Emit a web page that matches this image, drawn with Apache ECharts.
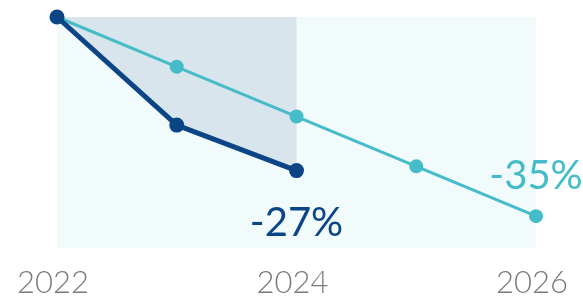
<!DOCTYPE html>
<html><head><meta charset="utf-8">
<script src="https://cdn.jsdelivr.net/npm/echarts@6/dist/echarts.min.js"></script>
<style>html,body{margin:0;padding:0;background:#fff}#c{width:583px;height:300px}</style>
</head><body><div id="c"></div>
<script>
var years = ['2022','2023','2024','2025','2026'];
var targetPath = [0, -8.75, -17.5, -26.25, -35];
var actual = [0, -19, -27];
var actualLabel = '-27%';
var targetLabel = '-35%';

var chart = echarts.init(document.getElementById('c'));
function withLastLabel(arr, text, opts) {
  return arr.map(function (v, i) {
    if (i !== arr.length - 1) return v;
    return { value: v, label: Object.assign({ show: true, formatter: text }, opts) };
  });
}
chart.setOption({
  animation: false,
  grid: { left: 57, right: 47, top: 17, bottom: 52, show: true, backgroundColor: '#f2fbfc', borderWidth: 0 },
  xAxis: {
    type: 'category', data: years, boundaryGap: false,
    axisLine: { show: false }, axisTick: { show: false }, splitLine: { show: false },
    axisLabel: { interval: 1, fontFamily: 'Lato', fontWeight: 300, fontSize: 31, color: '#7a7a7a', margin: 19, padding: [0, 8, 0, 0] }
  },
  yAxis: { type: 'value', min: -40.6, max: 0, show: false, splitLine: { show: false } },
  series: [
    { type: 'line', data: actual, symbol: 'none', lineStyle: { width: 0 }, clip: false,
      areaStyle: { origin: 'end', color: '#d9e5ec', opacity: 1 }, z: 1 },
    { type: 'line', data: withLastLabel(targetPath, targetLabel, { position: 'top', distance: 13, fontFamily: 'Lato', fontSize: 40, color: '#45bcc8' }),
      symbol: 'circle', symbolSize: 14, clip: false,
      itemStyle: { color: '#45bcc8' }, lineStyle: { color: '#45bcc8', width: 3 }, z: 3 },
    { type: 'line', data: withLastLabel(actual, actualLabel, { position: 'bottom', distance: 25, fontFamily: 'Lato', fontSize: 40, color: '#0b4585' }),
      symbol: 'circle', symbolSize: 15, clip: false,
      itemStyle: { color: '#0b4585' }, lineStyle: { color: '#0b4585', width: 5 }, z: 4 }
  ]
});
</script></body></html>
